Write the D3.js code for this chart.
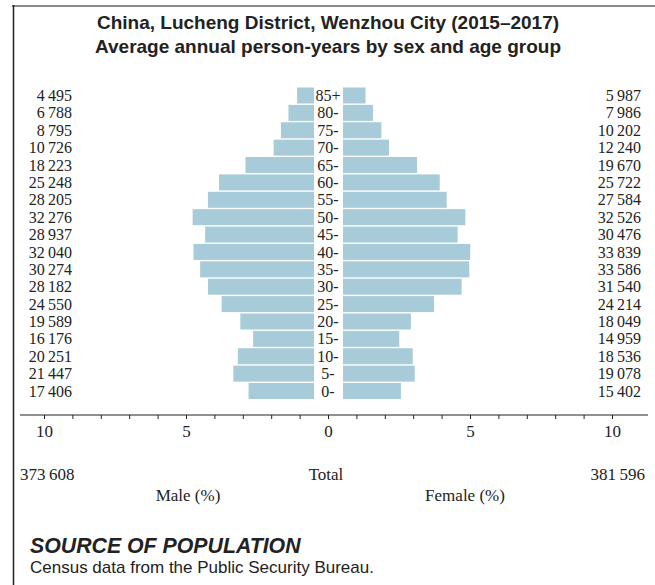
<!DOCTYPE html>
<html>
  <head>
    <meta charset="utf-8" />
    <title>Lucheng District population pyramid</title>
    <style>
      body { margin: 0; background: #fff; }
      .num { font-family: "Liberation Serif", serif; font-size: 16px; fill: #222; }
      .foot { font-family: "Liberation Serif", serif; font-size: 17px; fill: #222; }
      .tick text { font-family: "Liberation Serif", serif; font-size: 17px; fill: #222; }
      .tick line { stroke: #222; }
    </style>
  </head>
  <body>
    <svg id="chart"></svg>

    <script src="https://d3js.org/d3.v7.min.js"></script>
    <script>
      const ages = ["85+", "80-", "75-", "70-", "65-", "60-", "55-", "50-", "45-",
                    "40-", "35-", "30-", "25-", "20-", "15-", "10-", "5-", "0-"];
      const male = [4495, 6788, 8795, 10726, 18223, 25248, 28205, 32276, 28937,
                    32040, 30274, 28182, 24550, 19589, 16176, 20251, 21447, 17406];
      const female = [5987, 7986, 10202, 12240, 19670, 25722, 27584, 32526, 30476,
                      33839, 33586, 31540, 24214, 18049, 14959, 18536, 19078, 15402];
      const maleTotal = 373608;
      const femaleTotal = 381596;
      const axisTicks = d3.range(-10, 11);

      const width = 655;
      const height = 585;
      const grand = maleTotal + femaleTotal;
      const fmt = d3.formatLocale({ decimal: ".", thousands: "\u2009", grouping: [3], currency: ["", ""] }).format(",d");

      const svg = d3.select("#chart").attr("width", width).attr("height", height);

      // frame
      svg.append("line").attr("x1", 12).attr("x2", width).attr("y1", 6).attr("y2", 6)
        .attr("stroke", "#8a8a8a").attr("stroke-width", 2);
      svg.append("line").attr("x1", 13.5).attr("x2", 13.5).attr("y1", 5).attr("y2", height)
        .attr("stroke", "#222").attr("stroke-width", 1.5);

      // title
      const title = svg.append("g").attr("font-family", "'Liberation Sans', Arial, sans-serif")
        .attr("font-weight", "bold").attr("font-size", 19).attr("fill", "#222")
        .attr("text-anchor", "middle");
      title.append("text").attr("x", 328).attr("y", 29).text("China, Lucheng District, Wenzhou City (2015–2017)");
      title.append("text").attr("x", 328).attr("y", 53).text("Average annual person-years by sex and age group");

      const y = d3.scaleBand().domain(ages).range([87.5, 399]).paddingInner(0.08);
      const len = d3.scaleLinear().domain([0, 10]).range([0, 284]);
      const maleEdge = 314;
      const femaleEdge = 343;
      const barColor = "#a7cbd8";

      const rows = ages.map((a, i) => ({ age: a, m: male[i], f: female[i] }));

      svg.append("g").selectAll("rect").data(rows).join("rect")
        .attr("x", d => maleEdge - len(d.m / grand * 100))
        .attr("y", d => y(d.age))
        .attr("width", d => len(d.m / grand * 100))
        .attr("height", y.bandwidth())
        .attr("fill", barColor);

      svg.append("g").selectAll("rect").data(rows).join("rect")
        .attr("x", femaleEdge)
        .attr("y", d => y(d.age))
        .attr("width", d => len(d.f / grand * 100))
        .attr("height", y.bandwidth())
        .attr("fill", barColor);

      const mid = d => y(d.age) + y.bandwidth() / 2;

      svg.append("g").selectAll("text").data(rows).join("text")
        .attr("class", "num").attr("x", 328).attr("y", mid).attr("dy", "0.35em")
        .attr("text-anchor", "middle").text(d => d.age);

      svg.append("g").selectAll("text").data(rows).join("text")
        .attr("class", "num").attr("x", 72).attr("y", mid).attr("dy", "0.35em")
        .attr("text-anchor", "end").text(d => fmt(d.m));

      svg.append("g").selectAll("text").data(rows).join("text")
        .attr("class", "num").attr("x", 641).attr("y", mid).attr("dy", "0.35em")
        .attr("text-anchor", "end").text(d => fmt(d.f));

      // axis
      const x = d3.scaleLinear().domain([-10, 10]).range([44, 612]);
      svg.append("line").attr("x1", 20).attr("x2", 648).attr("y1", 415).attr("y2", 415)
        .attr("stroke", "#222").attr("stroke-width", 1.2);
      const ax = svg.append("g").attr("transform", "translate(0,415)")
        .call(d3.axisBottom(x).tickValues(axisTicks).tickSize(4).tickSizeOuter(0)
          .tickFormat(d => (d % 5 === 0 ? Math.abs(d) : "")));
      ax.select(".domain").remove();
      ax.selectAll(".tick text").attr("y", 10);

      // totals
      const foot = svg.append("g");
      foot.append("text").attr("class", "foot").attr("x", 20).attr("y", 480).text(fmt(maleTotal));
      foot.append("text").attr("class", "foot").attr("x", 326).attr("y", 480)
        .attr("text-anchor", "middle").text("Total");
      foot.append("text").attr("class", "foot").attr("x", 645).attr("y", 480)
        .attr("text-anchor", "end").text(fmt(femaleTotal));
      foot.append("text").attr("class", "foot").attr("x", 188).attr("y", 501)
        .attr("text-anchor", "middle").text("Male (%)");
      foot.append("text").attr("class", "foot").attr("x", 465).attr("y", 501)
        .attr("text-anchor", "middle").text("Female (%)");

      // source
      svg.append("text").attr("x", 30).attr("y", 553)
        .attr("font-family", "'Liberation Sans', Arial, sans-serif").attr("font-size", 21.3)
        .attr("font-weight", "bold").attr("font-style", "italic").attr("fill", "#222")
        .text("SOURCE OF POPULATION");
      svg.append("text").attr("x", 30).attr("y", 573)
        .attr("font-family", "'Liberation Sans', Arial, sans-serif").attr("font-size", 17)
        .attr("fill", "#222").text("Census data from the Public Security Bureau.");
    </script>
  </body>
</html>
